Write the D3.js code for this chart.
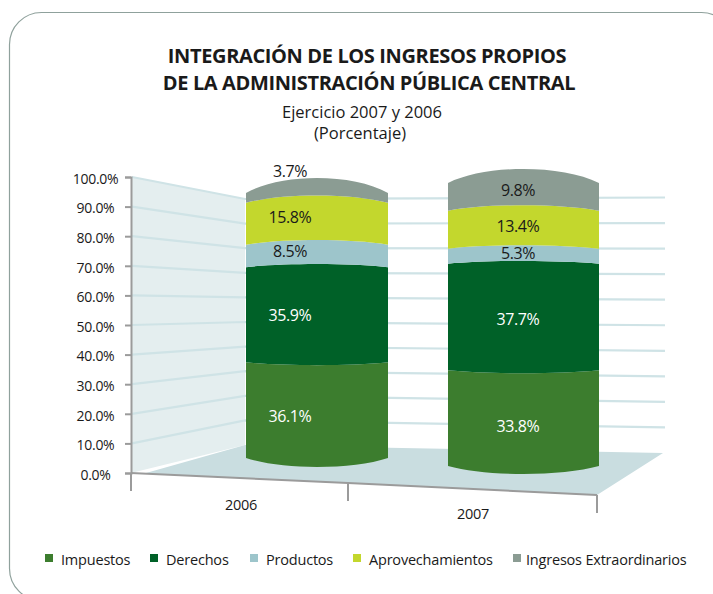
<!DOCTYPE html>
<html>
<head>
<meta charset="utf-8">
<script src="https://cdn.jsdelivr.net/npm/d3@7"></script>
<style>
    html, body { margin: 0; padding: 0; background: #fff; }
    text { font-family: "Open Sans", sans-serif; fill: #1a1a1a; }
</style>
</head>
<body>
<div id="chart"></div>
<script>
// values
const years = ['2006', '2007'];
const series = ['Impuestos', 'Derechos', 'Productos', 'Aprovechamientos', 'Ingresos Extraordinarios'];
const values2006 = [36.1, 35.9, 8.5, 15.8, 3.7];
const values2007 = [33.8, 37.7, 5.3, 13.4, 9.8];
const yTicks = [0, 10, 20, 30, 40, 50, 60, 70, 80, 90, 100];
const colors = ['#3c7d2e', '#006128', '#9dc5cb', '#c3d72d', '#8b9c93'];

const width = 713;
const height = 594;

const svg = d3.select('#chart')
    .append('svg')
    .attr('width', width)
    .attr('height', height)
    .style('display', 'block');

// frame, runs off the right and bottom of the page
svg.append('rect')
    .attr('x', 9.5).attr('y', 12.5)
    .attr('width', 724).attr('height', 588)
    .attr('rx', 32)
    .attr('fill', 'none')
    .attr('stroke', '#8fa19c')
    .attr('stroke-width', 1.2);

// titles
const titles = [
    { t: 'INTEGRACIÓN DE LOS INGRESOS PROPIOS', x: 367, y: 63, size: 20, weight: 700 },
    { t: 'DE LA ADMINISTRACIÓN PÚBLICA CENTRAL', x: 369, y: 90, size: 20, weight: 700 },
    { t: 'Ejercicio 2007 y 2006', x: 362, y: 118, size: 16.5, weight: 400 },
    { t: '(Porcentaje)', x: 360, y: 139, size: 16.5, weight: 400 }
];
svg.selectAll('.title')
    .data(titles)
    .enter().append('text')
    .attr('class', 'title')
    .attr('x', d => d.x)
    .attr('y', d => d.y)
    .attr('text-anchor', 'middle')
    .style('font-size', d => d.size + 'px')
    .style('font-weight', d => d.weight)
    .style('letter-spacing', d => d.weight === 700 ? '-0.37px' : '0px')
    .text(d => d.t);

// the 3d box: one y scale per depth plane
const yFront = d3.scaleLinear().domain([0, 100]).range([473, 177]);
const yBackLeft = d3.scaleLinear().domain([0, 100]).range([445, 199]);
const yBackRight = d3.scaleLinear().domain([0, 100]).range([453, 197.5]);
const xCorner = 245;
const xRight = 665;

// floor position along the front edge
const xEdge = d3.scaleLinear().domain([0, 1, 2]).range([131, 348, 597]);
const yEdge = d3.scaleLinear().domain([0, 1, 2]).range([473, 483, 495]);

const line = d3.line();

// left wall
svg.append('path')
    .attr('d', line([[131, yFront(100)], [xCorner, yBackLeft(100)], [xCorner, yBackLeft(0)], [131, yFront(0)]]) + 'Z')
    .attr('fill', '#e4eeef');

// floor
svg.append('path')
    .attr('d', line([[146, 473], [xCorner, yBackLeft(0)], [663, yBackRight(0)], [xEdge(2), yEdge(2)], [xEdge(0), yEdge(0)]]) + 'Z')
    .attr('fill', '#c9dde0');

// grid lines along both walls
svg.selectAll('.grid')
    .data(yTicks.filter(d => d > 0))
    .enter().append('path')
    .attr('class', 'grid')
    .attr('d', d => line([[132, yFront(d)], [xCorner, yBackLeft(d)], [xRight, yBackRight(d)]]))
    .attr('fill', 'none')
    .attr('stroke', '#cfe3e6')
    .attr('stroke-width', 2.2);

// value axis
const yAxis = d3.axisLeft(yFront)
    .tickValues(yTicks)
    .tickSize(6)
    .tickPadding(0)
    .tickFormat(d => d.toFixed(1) + '%');

const yAxisG = svg.append('g')
    .attr('transform', 'translate(131,0)')
    .call(yAxis);

yAxisG.select('.domain').attr('stroke', '#9b9b9b').attr('stroke-width', 2);
yAxisG.selectAll('.tick line').attr('stroke', '#9b9b9b').attr('stroke-width', 2);
yAxisG.selectAll('.tick text')
    .attr('x', -35.5)
    .attr('dy', '0.45em')
    .attr('text-anchor', 'middle')
    .style('font-size', '14px')
    .style('letter-spacing', '-0.3px');

// category axis
svg.append('path')
    .attr('d', line([0, 1, 2].map(i => [xEdge(i), yEdge(i)])))
    .attr('fill', 'none')
    .attr('stroke', '#9b9b9b')
    .attr('stroke-width', 2);

svg.selectAll('.xtick')
    .data([0, 1, 2])
    .enter().append('line')
    .attr('class', 'xtick')
    .attr('x1', d => xEdge(d))
    .attr('x2', d => xEdge(d))
    .attr('y1', d => yEdge(d))
    .attr('y2', d => yEdge(d) + 18)
    .attr('stroke', '#9b9b9b')
    .attr('stroke-width', 2);

svg.selectAll('.xlabel')
    .data(years)
    .enter().append('text')
    .attr('class', 'xlabel')
    .attr('x', (d, i) => [241, 473][i])
    .attr('y', (d, i) => [510, 519][i])
    .attr('text-anchor', 'middle')
    .style('font-size', '14.5px')
    .style('letter-spacing', '-0.3px')
    .text(d => d);

// cylinders: edge height per value, and how much each rim bows at that height
const cylinders = [
    {
        values: values2006, x0: 246, x1: 388,
        y: d3.scaleLinear().domain([0, 100]).range([458, 193]),
        bow: d3.scaleLinear().domain([0, 100]).range([9, -8]),
        crown: -15,
        labelDy: [7, 1, -4, -6, -26],
        labelX: 290
    },
    {
        values: values2007, x0: 448, x1: 599,
        y: d3.scaleLinear().domain([0, 100]).range([466, 183]),
        bow: d3.scaleLinear().domain([0, 100]).range([8, -7]),
        crown: -14,
        labelDy: [9, 3, -2, -3, -6],
        labelX: 518
    }
];

// rim from left to right (or back), bowing by s at the middle
function rim(p, x0, x1, y, s) {
    const w = x1 - x0;
    p.bezierCurveTo(x0 + w * 0.25, y + s * 4 / 3, x0 + w * 0.75, y + s * 4 / 3, x1, y);
}

cylinders.forEach(c => {
    let total = 0;
    const stacked = c.values.map((v, i) => {
        const d = { i, v, from: total, to: total + v };
        total += v;
        return d;
    });

    const g = svg.append('g');

    g.selectAll('path')
        .data(stacked)
        .enter().append('path')
        .attr('fill', d => colors[d.i])
        .attr('d', d => {
            const p = d3.path();
            const yLow = c.y(d.from);
            const yHigh = c.y(d.to);
            const last = d.i === stacked.length - 1;
            p.moveTo(c.x0, yLow);
            rim(p, c.x0, c.x1, yLow, c.bow(d.from));
            p.lineTo(c.x1, yHigh);
            rim(p, c.x1, c.x0, yHigh, last ? c.crown : c.bow(d.to));
            p.closePath();
            return p.toString();
        });

    g.selectAll('text')
        .data(stacked)
        .enter().append('text')
        .attr('x', c.labelX)
        .attr('y', d => c.y((d.from + d.to) / 2) + c.labelDy[d.i] + 5)
        .attr('text-anchor', 'middle')
        .style('font-size', '16px')
        .style('letter-spacing', '-0.4px')
        .style('fill', d => d.i < 2 ? '#ffffff' : '#1a1a1a')
        .text(d => d.v.toFixed(1) + '%');
});

// legend
const legendX = [45, 150, 250, 353, 513];
const legend = svg.selectAll('.legend')
    .data(series)
    .enter().append('g')
    .attr('class', 'legend')
    .attr('transform', (d, i) => `translate(${legendX[i]},554)`);

legend.append('rect')
    .attr('width', 8)
    .attr('height', 8)
    .attr('fill', (d, i) => colors[i]);

legend.append('text')
    .attr('x', (d, i) => i === 4 ? 13 : 16)
    .attr('y', 11)
    .style('font-size', '14.5px')
    .style('letter-spacing', '-0.2px')
    .text(d => d);
</script>
</body>
</html>
